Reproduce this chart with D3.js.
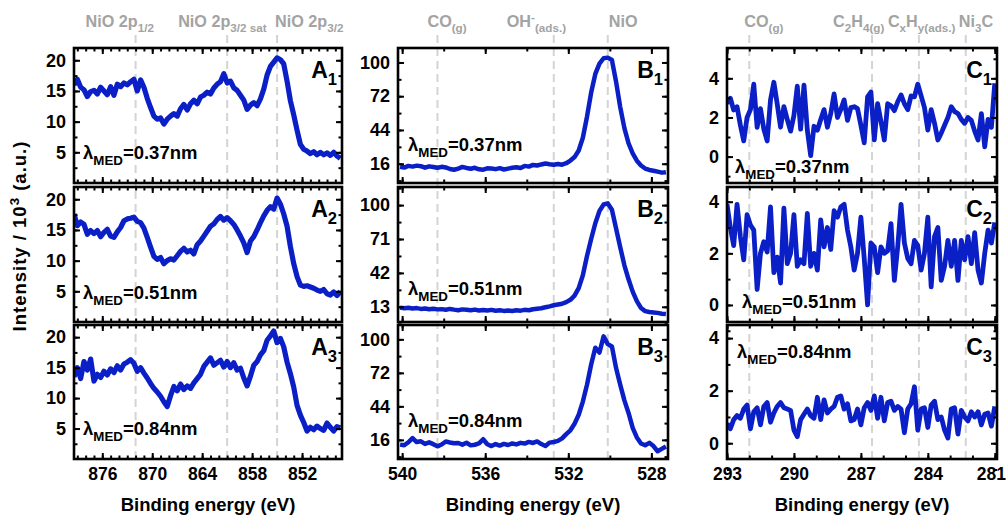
<!DOCTYPE html>
<html>
<head>
<meta charset="utf-8">
<script src="https://cdn.jsdelivr.net/npm/d3@7"></script>
<style>
  body { margin: 0; background: #fff; }
  text { font-family: 'Liberation Sans', Arial, sans-serif; font-weight: bold; }
</style>
</head>
<body>
<script>
// ---------- data ----------
// Ni 2p region, energies start at 879.4 eV, step 0.4 eV
var a_start = 879.4, a_step = 0.4;
var a1 = [16.0, 16.9, 15.6, 15.2, 14.1, 14.9, 15.1, 14.5, 15.6, 15.0,
          14.4, 15.7, 14.3, 16.1, 15.7, 16.3, 16.0, 16.5, 16.9, 15.0,
          16.8, 15.6, 13.8, 12.3, 10.9, 10.4, 10.6, 9.6, 10.4, 10.9,
          11.3, 10.9, 12.1, 12.8, 11.9, 12.9, 13.5, 12.9, 14.0, 14.3,
          14.8, 14.5, 15.5, 16.1, 16.5, 17.8, 16.3, 16.6, 15.5, 15.1,
          14.3, 13.5, 12.0, 12.7, 13.1, 12.6, 13.7, 15.3, 17.6, 19.0,
          19.7, 20.4, 20.1, 19.4, 16.6, 13.4, 11.1, 8.6, 6.3, 5.5,
          5.2, 4.8, 5.1, 4.6, 5.0, 4.6, 4.9, 4.5, 5.0, 4.4,
          4.0];
var a2 = [17.6, 15.7, 16.3, 15.9, 14.3, 14.9, 14.4, 14.9, 13.9, 14.6,
          15.1, 14.0, 13.8, 14.7, 15.4, 16.5, 16.8, 16.9, 17.1, 16.4,
          16.2, 15.3, 13.8, 12.2, 10.7, 10.2, 10.5, 9.5, 10.0, 10.3,
          10.1, 10.8, 11.5, 12.0, 11.4, 11.7, 11.1, 12.6, 13.2, 14.0,
          14.8, 15.6, 16.0, 16.7, 17.2, 16.6, 17.0, 16.5, 15.9, 15.0,
          14.0, 12.9, 11.3, 13.2, 13.9, 15.0, 16.2, 17.3, 18.2, 18.8,
          18.4, 20.2, 19.2, 17.6, 15.6, 12.3, 9.5, 7.4, 6.0, 5.8,
          5.9, 5.7, 5.5, 5.2, 5.0, 5.3, 4.6, 4.4, 4.9, 4.3,
          5.0];
var a3 = [13.5, 15.0, 13.2, 16.0, 14.6, 16.4, 12.8, 13.9, 13.4, 14.4,
          13.8, 14.8, 14.2, 15.3, 14.6, 15.6, 15.9, 16.3, 15.7, 14.4,
          15.0, 14.1, 13.3, 12.4, 11.6, 11.0, 10.3, 9.4, 8.6, 10.4,
          11.9, 11.2, 12.3, 11.4, 12.0, 11.6, 12.5, 13.2, 13.9, 15.2,
          15.9, 16.6, 15.4, 15.8, 16.2, 15.1, 16.0, 15.0, 15.8, 14.6,
          14.9, 13.3, 12.0, 13.6, 15.4, 16.0, 17.1, 17.8, 19.5, 20.2,
          21.0, 19.1, 19.8, 18.4, 15.9, 14.0, 11.8, 8.8, 7.2, 6.0,
          4.6, 5.2, 4.8, 5.4, 5.0, 4.7, 5.9, 5.2, 4.6, 5.3,
          5.1];

// O 1s region, energies start at 540.1 eV, step 0.2 eV
var b_start = 540.1, b_step = 0.2;
var b1 = [13.5, 12.8, 14.2, 13.6, 14.4, 13.9, 12.7, 13.8, 13.3, 12.6,
          13.4, 12.9, 11.6, 11.0, 12.0, 13.3, 12.5, 11.8, 12.6, 11.4,
          11.0, 12.2, 12.0, 11.5, 12.3, 11.2, 11.9, 12.6, 13.0, 12.4,
          14.2, 13.6, 15.0, 14.5, 15.4, 16.2, 15.6, 15.1, 15.8, 15.2,
          16.4, 18.6, 21.5, 27.0, 37.5, 55.0, 75.0, 90.5, 99.0, 103.5,
          104.0, 102.0, 84.0, 63.0, 45.5, 33.0, 24.5, 18.5, 14.5, 12.0,
          10.8, 10.2, 9.4, 8.6, 9.0];
var b2 = [12.3, 11.8, 12.2, 11.5, 11.9, 11.2, 11.6, 10.9, 11.4, 10.8,
          11.0, 10.5, 11.2, 10.6, 10.1, 10.8, 10.4, 10.0, 10.6, 9.9,
          10.3, 9.8, 10.4, 9.6, 10.1, 9.5, 9.9, 9.4, 10.0, 9.7,
          10.4, 10.1, 10.9, 11.4, 11.8, 12.6, 13.4, 14.3, 15.0, 15.6,
          17.0, 19.0, 22.5, 29.0, 40.0, 56.5, 71.0, 84.5, 95.0, 100.5,
          101.5, 96.0, 80.0, 64.0, 48.5, 36.5, 26.0, 17.8, 12.0, 9.3,
          8.6, 8.2, 7.8, 7.1, 6.8];
var b3 = [12.0, 11.5, 14.0, 17.5, 14.2, 14.8, 12.6, 13.9, 12.4, 10.6,
          12.1, 14.6, 13.8, 13.1, 13.4, 12.0, 13.6, 11.4, 11.9, 13.0,
          16.5, 12.3, 10.8, 12.5, 11.2, 12.6, 11.7, 13.0, 12.2, 13.5,
          12.9, 14.3, 13.4, 14.7, 12.5, 10.9, 13.7, 14.2, 15.1, 17.2,
          20.8, 24.0, 29.5, 37.0, 48.0, 62.0, 79.0, 93.0, 89.0, 102.5,
          96.0, 94.0, 76.0, 62.0, 49.0, 38.5, 26.0, 18.0, 13.0, 11.5,
          13.5, 10.8, 6.5, 8.5, 10.5];

// C 1s region, energies start at 293 eV, step 0.15 eV
var c_start = 293.0, c_step = 0.15;
var c1 = [2.72, 2.98, 2.38, 2.55, 1.6, 0.8, 2.0, 2.4, 3.7, 1.5,
          2.45, 1.4, 0.8, 2.9, 3.8, 2.7, 1.5, 2.55, 1.9, 1.3,
          2.1, 3.6, 1.4, 3.65, 1.35, 0.05, 1.55, 1.35, 1.9, 2.4,
          1.5, 2.2, 3.2, 2.0, 2.4, 2.9, 1.85, 2.5, 2.55, 2.45,
          1.6, 0.7, 3.05, 3.3, 0.85, 2.7, 1.8, 0.85, 2.7, 2.6,
          2.35, 2.8, 3.15, 2.7, 2.4, 3.1, 3.05, 3.7, 3.1, 2.5,
          1.35, 2.4, 1.7, 0.85, 1.2, 1.6, 2.0, 2.55, 2.3, 2.2,
          1.9, 1.7, 2.0, 1.85, 1.3, 0.85, 2.2, 0.5, 1.9, 1.5,
          3.75];
var c2 = [3.9, 3.0, 2.3, 3.9, 2.65, 1.75, 3.5, 3.1, 2.9, 0.6,
          2.0, 2.45, 2.05, 3.8, 1.25, 1.85, 0.85, 3.75, 1.6, 2.0,
          3.5, 1.5, 1.75, 1.6, 3.55, 1.5, 2.0, 1.35, 3.3, 2.25,
          3.0, 2.15, 3.65, 3.4, 3.8, 3.9, 2.9, 2.25, 1.35, 2.0,
          3.4, 1.8, 0.0, 2.4, 2.25, 1.25, 2.25, 2.0, 2.1, 3.15,
          0.95, 2.25, 3.9, 2.4, 1.8, 1.6, 2.5, 2.3, 1.35, 2.0,
          3.4, 0.7, 2.65, 3.0, 0.95, 1.5, 2.5, 1.5, 2.5, 0.95,
          2.5, 1.75, 2.65, 1.6, 2.8, 1.35, 0.85, 2.0, 2.9, 2.4,
          3.2];
var c3 = [0.75, 0.55, 0.9, 1.05, 0.95, 1.3, 1.45, 0.55, 1.2, 1.35,
          0.7, 1.4, 1.55, 0.8, 1.15, 1.4, 1.55, 1.35, 1.3, 1.25,
          0.5, 0.25, 0.9, 1.1, 1.3, 1.05, 0.95, 1.75, 0.9, 1.65,
          1.15, 1.3, 1.4, 1.75, 1.8, 1.3, 1.5, 0.85, 0.9, 1.3,
          0.7, 1.35, 1.55, 1.25, 1.8, 0.95, 1.75, 0.85, 1.55, 1.6,
          1.25, 1.4, 1.3, 0.4, 1.3, 1.5, 2.15, 0.5, 1.3, 1.35,
          0.6, 1.45, 1.6, 0.9, 1.0, 0.5, 0.2, 1.3, 1.35, 0.35,
          1.25, 1.0, 0.85, 1.2, 1.0, 1.2, 0.7, 1.1, 1.15, 0.65,
          1.4];

// axis ranges and ticks
var a_xdomain = [879.4, 847.2], a_xmajor = [876, 870, 864, 858, 852];
var a_ydomain = [0, 22], a_ymajor = [5, 10, 15, 20];
var b_xdomain = [540.2, 527.2], b_xmajor = [540, 536, 532, 528];
var b_ydomains = [[0, 112], [0, 115.5], [0, 112]];
var b_ymajors = [[16, 44, 72, 100], [13, 42, 71, 100], [16, 44, 72, 100]];
var c_xdomain = [293, 280.9], c_xmajor = [293, 290, 287, 284, 281];
var c_ydomains = [[-1.35, 5.55], [-0.66, 4.57], [-0.6, 4.5]];
var c_ymajor = [0, 2, 4];

// reference lines and their labels
var a_peaks = [872, 861, 855];
var a_names = [[["NiO 2p", ""], ["1/2", "sub"]], [["NiO 2p", ""], ["3/2 sat", "sub"]], [["NiO 2p", ""], ["3/2", "sub"]]];
var b_peaks = [538.3, 532.7, 530.1];
var b_names = [[["CO", ""], ["(g)", "sub"]], [["OH", ""], ["-", "sup"], ["(ads.)", "sub"]], [["NiO", ""]]];
var c_peaks = [292.0, 286.5, 284.4, 282.3];
var c_names = [[["CO", ""], ["(g)", "sub"]], [["C", ""], ["2", "sub"], ["H", ""], ["4(g)", "sub"]],
               [["C", ""], ["x", "sub"], ["H", ""], ["y(ads.)", "sub"]], [["Ni", ""], ["3", "sub"], ["C", ""]]];

var depths = ["0.37nm", "0.51nm", "0.84nm"];
var letters = ["A", "B", "C"];

// ---------- layout ----------
var width = 1008, height = 516;
var cols = [{ x0: 74, x1: 342 }, { x0: 398, x1: 668 }, { x0: 727, x1: 997 }];
var rows = [{ y0: 48, y1: 183 }, { y0: 187, y1: 322 }, { y0: 325, y1: 459 }];
var blue = "#0b1fc6";
var labelOffsets = [[-50, -49, -2], [-10, -47, 1], [-5, -39, -31, -7]];
var lambdaPos = [[[9, 111], [9, 112], [9, 110]], [[10, 103], [10, 108], [10, 102]], [[8, 125], [15, 121], [10, 33]]];

var svg = d3.select("body").append("svg")
  .attr("width", width).attr("height", height);

function rich(text, segs, size) {
  var shift = 0;
  segs.forEach(function (s) {
    var target = s[1] == "sub" ? size * 0.3 : s[1] == "sup" ? -size * 0.4 : 0;
    text.append("tspan")
      .attr("dy", target - shift)
      .attr("font-size", s[1] ? size * 0.72 : size)
      .text(s[0]);
    shift = target;
  });
}

function series(vals, start, step) {
  return vals.map(function (v, i) { return { e: start - i * step, v: v }; });
}

var columns = [
  { xdomain: a_xdomain, xmajor: a_xmajor, xminor: d3.range(879, 847, -1), peaks: a_peaks, names: a_names,
    sets: [a1, a2, a3].map(function (d) { return series(d, a_start, a_step); }),
    ydomains: [a_ydomain, a_ydomain, a_ydomain], ymajors: [a_ymajor, a_ymajor, a_ymajor],
    yminors: [d3.range(2.5, 22, 2.5), d3.range(2.5, 22, 2.5), d3.range(2.5, 22, 2.5)], lw: 5.2 },
  { xdomain: b_xdomain, xmajor: b_xmajor, xminor: d3.range(540, 527, -2), peaks: b_peaks, names: b_names,
    sets: [b1, b2, b3].map(function (d) { return series(d, b_start, b_step); }),
    ydomains: b_ydomains, ymajors: b_ymajors,
    yminors: [d3.range(2, 112, 14), d3.range(-1.5, 115, 14.5), d3.range(2, 112, 14)], lw: 4.5 },
  { xdomain: c_xdomain, xmajor: c_xmajor, xminor: d3.range(293, 280.5, -1), peaks: c_peaks, names: c_names,
    sets: [c1, c2, c3].map(function (d) { return series(d, c_start, c_step); }),
    ydomains: c_ydomains, ymajors: [c_ymajor, c_ymajor, c_ymajor],
    yminors: [d3.range(-1, 5.6, 1), d3.range(-1, 4.6, 1), d3.range(-1, 4.6, 1)], lw: 4.8 }
];

function styleAxis(g, size) {
  g.select(".domain").remove();
  g.selectAll(".tick line").attr("stroke", "#000").attr("stroke-width", 2);
  g.selectAll("text").attr("font-size", size).attr("font-family", "'Liberation Sans', Arial, sans-serif")
    .attr("font-weight", "bold").attr("fill", "#000");
}

columns.forEach(function (col, ci) {
  var c = cols[ci];
  var x = d3.scaleLinear().domain(col.xdomain).range([c.x0, c.x1]);

  // dashed reference lines across all rows
  svg.append("g").selectAll("line").data(col.peaks).enter().append("line")
    .attr("x1", d => x(d)).attr("x2", d => x(d))
    .attr("y1", 35).attr("y2", rows[2].y1)
    .attr("stroke", "#d4d4d4").attr("stroke-width", 2).attr("stroke-dasharray", "8,5");

  // header labels
  col.peaks.forEach(function (p, k) {
    var t = svg.append("text").attr("x", x(p) + labelOffsets[ci][k]).attr("y", 27).attr("fill", "#a3a3a3");
    rich(t, col.names[k], 16.2);
  });

  rows.forEach(function (r, ri) {
    var y = d3.scaleLinear().domain(col.ydomains[ri]).range([r.y1, r.y0]);
    var g = svg.append("g");

    var clipId = "clip" + ci + ri;
    svg.append("clipPath").attr("id", clipId).append("rect")
      .attr("x", c.x0).attr("y", r.y0).attr("width", c.x1 - c.x0).attr("height", r.y1 - r.y0);

    // spectrum
    var line = d3.line().x(d => x(d.e)).y(d => y(d.v)).curve(d3.curveLinear);
    g.append("path").datum(col.sets[ri])
      .attr("clip-path", "url(#" + clipId + ")")
      .attr("d", line).attr("fill", "none").attr("stroke", blue)
      .attr("stroke-width", col.lw).attr("stroke-linejoin", "round");

    // minor ticks on all four sides
    g.append("g").attr("transform", "translate(0," + r.y1 + ")")
      .call(d3.axisBottom(x).tickValues(col.xminor).tickSize(-3.5).tickFormat("")).call(styleAxis, 18);
    g.append("g").attr("transform", "translate(0," + r.y0 + ")")
      .call(d3.axisTop(x).tickValues(col.xminor).tickSize(-3.5).tickFormat("")).call(styleAxis, 18);
    g.append("g").attr("transform", "translate(" + c.x0 + ",0)")
      .call(d3.axisLeft(y).tickValues(col.yminors[ri]).tickSize(-3.5).tickFormat("")).call(styleAxis, 18);
    g.append("g").attr("transform", "translate(" + c.x1 + ",0)")
      .call(d3.axisRight(y).tickValues(col.yminors[ri]).tickSize(-3.5).tickFormat("")).call(styleAxis, 18);

    // major ticks
    var bottom = d3.axisBottom(x).tickValues(col.xmajor).tickSize(-6).tickPadding(9);
    if (ri < 2) bottom.tickFormat("");
    var bg = g.append("g").attr("transform", "translate(0," + r.y1 + ")").call(bottom).call(styleAxis, 17.5);
    // keep the last label of the far-right panel inside the page
    if (ci == 2) bg.selectAll("text").filter(d => d == 281).attr("dx", -4);
    g.append("g").attr("transform", "translate(0," + r.y0 + ")")
      .call(d3.axisTop(x).tickValues(col.xmajor).tickSize(-6).tickFormat("")).call(styleAxis, 18);
    g.append("g").attr("transform", "translate(" + c.x0 + ",0)")
      .call(d3.axisLeft(y).tickValues(col.ymajors[ri]).tickSize(-6).tickPadding(8).tickFormat(d3.format("d")))
      .call(styleAxis, 18);
    g.append("g").attr("transform", "translate(" + c.x1 + ",0)")
      .call(d3.axisRight(y).tickValues(col.ymajors[ri]).tickSize(-6).tickFormat("")).call(styleAxis, 18);

    // frame
    g.append("rect").attr("x", c.x0).attr("y", r.y0)
      .attr("width", c.x1 - c.x0).attr("height", r.y1 - r.y0)
      .attr("fill", "none").attr("stroke", "#000").attr("stroke-width", 2.6);

    // panel label
    var pl = g.append("text").attr("x", c.x1 - 5).attr("y", r.y0 + 30)
      .attr("text-anchor", "end").attr("fill", "#000");
    rich(pl, [[letters[ci], ""], [String(ri + 1), "sub"]], 23);

    // probing depth
    var lp = lambdaPos[ci][ri];
    var lt = g.append("text").attr("x", c.x0 + lp[0]).attr("y", r.y0 + lp[1]).attr("fill", "#000");
    rich(lt, [["λ", ""], ["MED", "sub"], ["=" + depths[ri], ""]], 18.5);
  });

  // x title
  svg.append("text").attr("x", (c.x0 + c.x1) / 2).attr("y", 511)
    .attr("text-anchor", "middle").attr("font-size", 18.5).text("Binding energy (eV)");
});

// y title
var yt = svg.append("text").attr("transform", "translate(26,236) rotate(-90)")
  .attr("text-anchor", "middle").attr("letter-spacing", 1);
rich(yt, [["Intensity / 10", ""], ["3", "sup"], [" (a.u.)", ""]], 18.5);
</script>
</body>
</html>
